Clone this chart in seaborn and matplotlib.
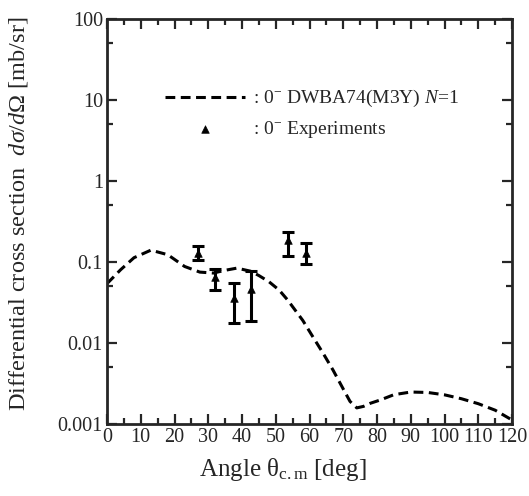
import numpy as np
import pandas as pd
import matplotlib
matplotlib.use("Agg")
import matplotlib.pyplot as plt
import matplotlib.ticker as mticker
import seaborn as sns

# DWBA74 (M3Y) calculation
calc_angle = [0, 4, 8, 13, 18, 23, 27.5, 31.5, 35, 38.5, 42.5, 45, 48, 51, 53.5, 55, 58,
              61, 64, 67, 70, 72, 74, 76, 78, 81, 85, 90, 95, 100, 105, 110, 115, 120]
calc_xs = [0.054, 0.080, 0.113, 0.140, 0.123, 0.088, 0.075, 0.073, 0.079, 0.084, 0.077,
           0.068, 0.057, 0.045, 0.034, 0.028, 0.019, 0.0119, 0.0075, 0.0046, 0.0027,
           0.0019, 0.00158, 0.00165, 0.0018, 0.00198, 0.0023, 0.00248, 0.00245, 0.00229,
           0.00205, 0.00178, 0.00148, 0.00112]

# experimental points
exp_angle = [27, 32, 37.7, 42.7, 53.5, 59]
exp_xs = [0.130, 0.066, 0.036, 0.047, 0.187, 0.130]
exp_lo = [0.106, 0.045, 0.0178, 0.0187, 0.119, 0.094]
exp_hi = [0.158, 0.081, 0.0546, 0.078, 0.234, 0.173]

calc = pd.DataFrame({"angle": calc_angle, "xs": calc_xs})
exp = pd.DataFrame({"angle": exp_angle, "xs": exp_xs, "lo": exp_lo, "hi": exp_hi})

sns.set_style("ticks")
plt.rcParams["font.family"] = ["Liberation Serif", "DejaVu Serif"]
plt.rcParams["mathtext.fontset"] = "custom"
plt.rcParams["mathtext.rm"] = "Liberation Serif"
plt.rcParams["mathtext.it"] = "Liberation Serif:italic"

fig = plt.figure(figsize=(5.29, 4.96), dpi=100)
ax = fig.add_axes([0.2023, 0.1452, 0.7656, 0.8165])

sns.lineplot(data=calc, x="angle", y="xs", ax=ax, color="black", lw=2.2,
             linestyle=(0, (3.2, 1.8)),
             label=r": 0$^{-}$ DWBA74(M3Y) $N$=1")

yerr = np.array([exp["xs"] - exp["lo"], exp["hi"] - exp["xs"]])
ax.errorbar(exp["angle"], exp["xs"], yerr=yerr, fmt="none", ecolor="black",
            elinewidth=2.2, capsize=4, capthick=2.2)
sns.scatterplot(data=exp, x="angle", y="xs", ax=ax, marker="^", color="black",
                s=30, edgecolor="black", label=r": 0$^{-}$ Experiments", zorder=5)

ax.set_yscale("log")
ax.set_xlim(0, 120)
ax.set_ylim(0.001, 100)
ax.xaxis.set_major_locator(mticker.MultipleLocator(10))
ax.xaxis.set_minor_locator(mticker.MultipleLocator(5))
ax.yaxis.set_major_locator(mticker.LogLocator(base=10, numticks=10))
ax.yaxis.set_minor_locator(mticker.LogLocator(base=10, subs=[5], numticks=10))
ax.yaxis.set_minor_formatter(mticker.NullFormatter())
ax.yaxis.set_major_formatter(mticker.FuncFormatter(lambda v, p: f"{v:g}"))

ax.tick_params(which="both", direction="in", top=True, right=True, width=1.6,
               labelsize=14.5, pad=3)
ax.tick_params(which="major", length=7)
ax.tick_params(which="minor", length=4)
for s in ax.spines.values():
    s.set_linewidth(2)

ax.set_xlabel(r"Angle θ$_{\rm c.m}$ [deg]", fontsize=18)
ax.xaxis.set_label_coords(0.435, -0.078, transform=ax.transAxes)
ax.xaxis.label.set_va("top")
ax.set_ylabel(r"Differential cross section  $d\sigma/d\Omega$ [mb/sr]", fontsize=17.5,
              labelpad=20)
ax.yaxis.label.set_y(0.52)

ax.legend(loc="center left", bbox_to_anchor=(0.12, 0.765), frameon=False,
          fontsize=14, handlelength=4.1, handletextpad=0.4, labelspacing=0.5,
          borderpad=0, markerscale=1.0)

fig.savefig("out.png", dpi=100)
